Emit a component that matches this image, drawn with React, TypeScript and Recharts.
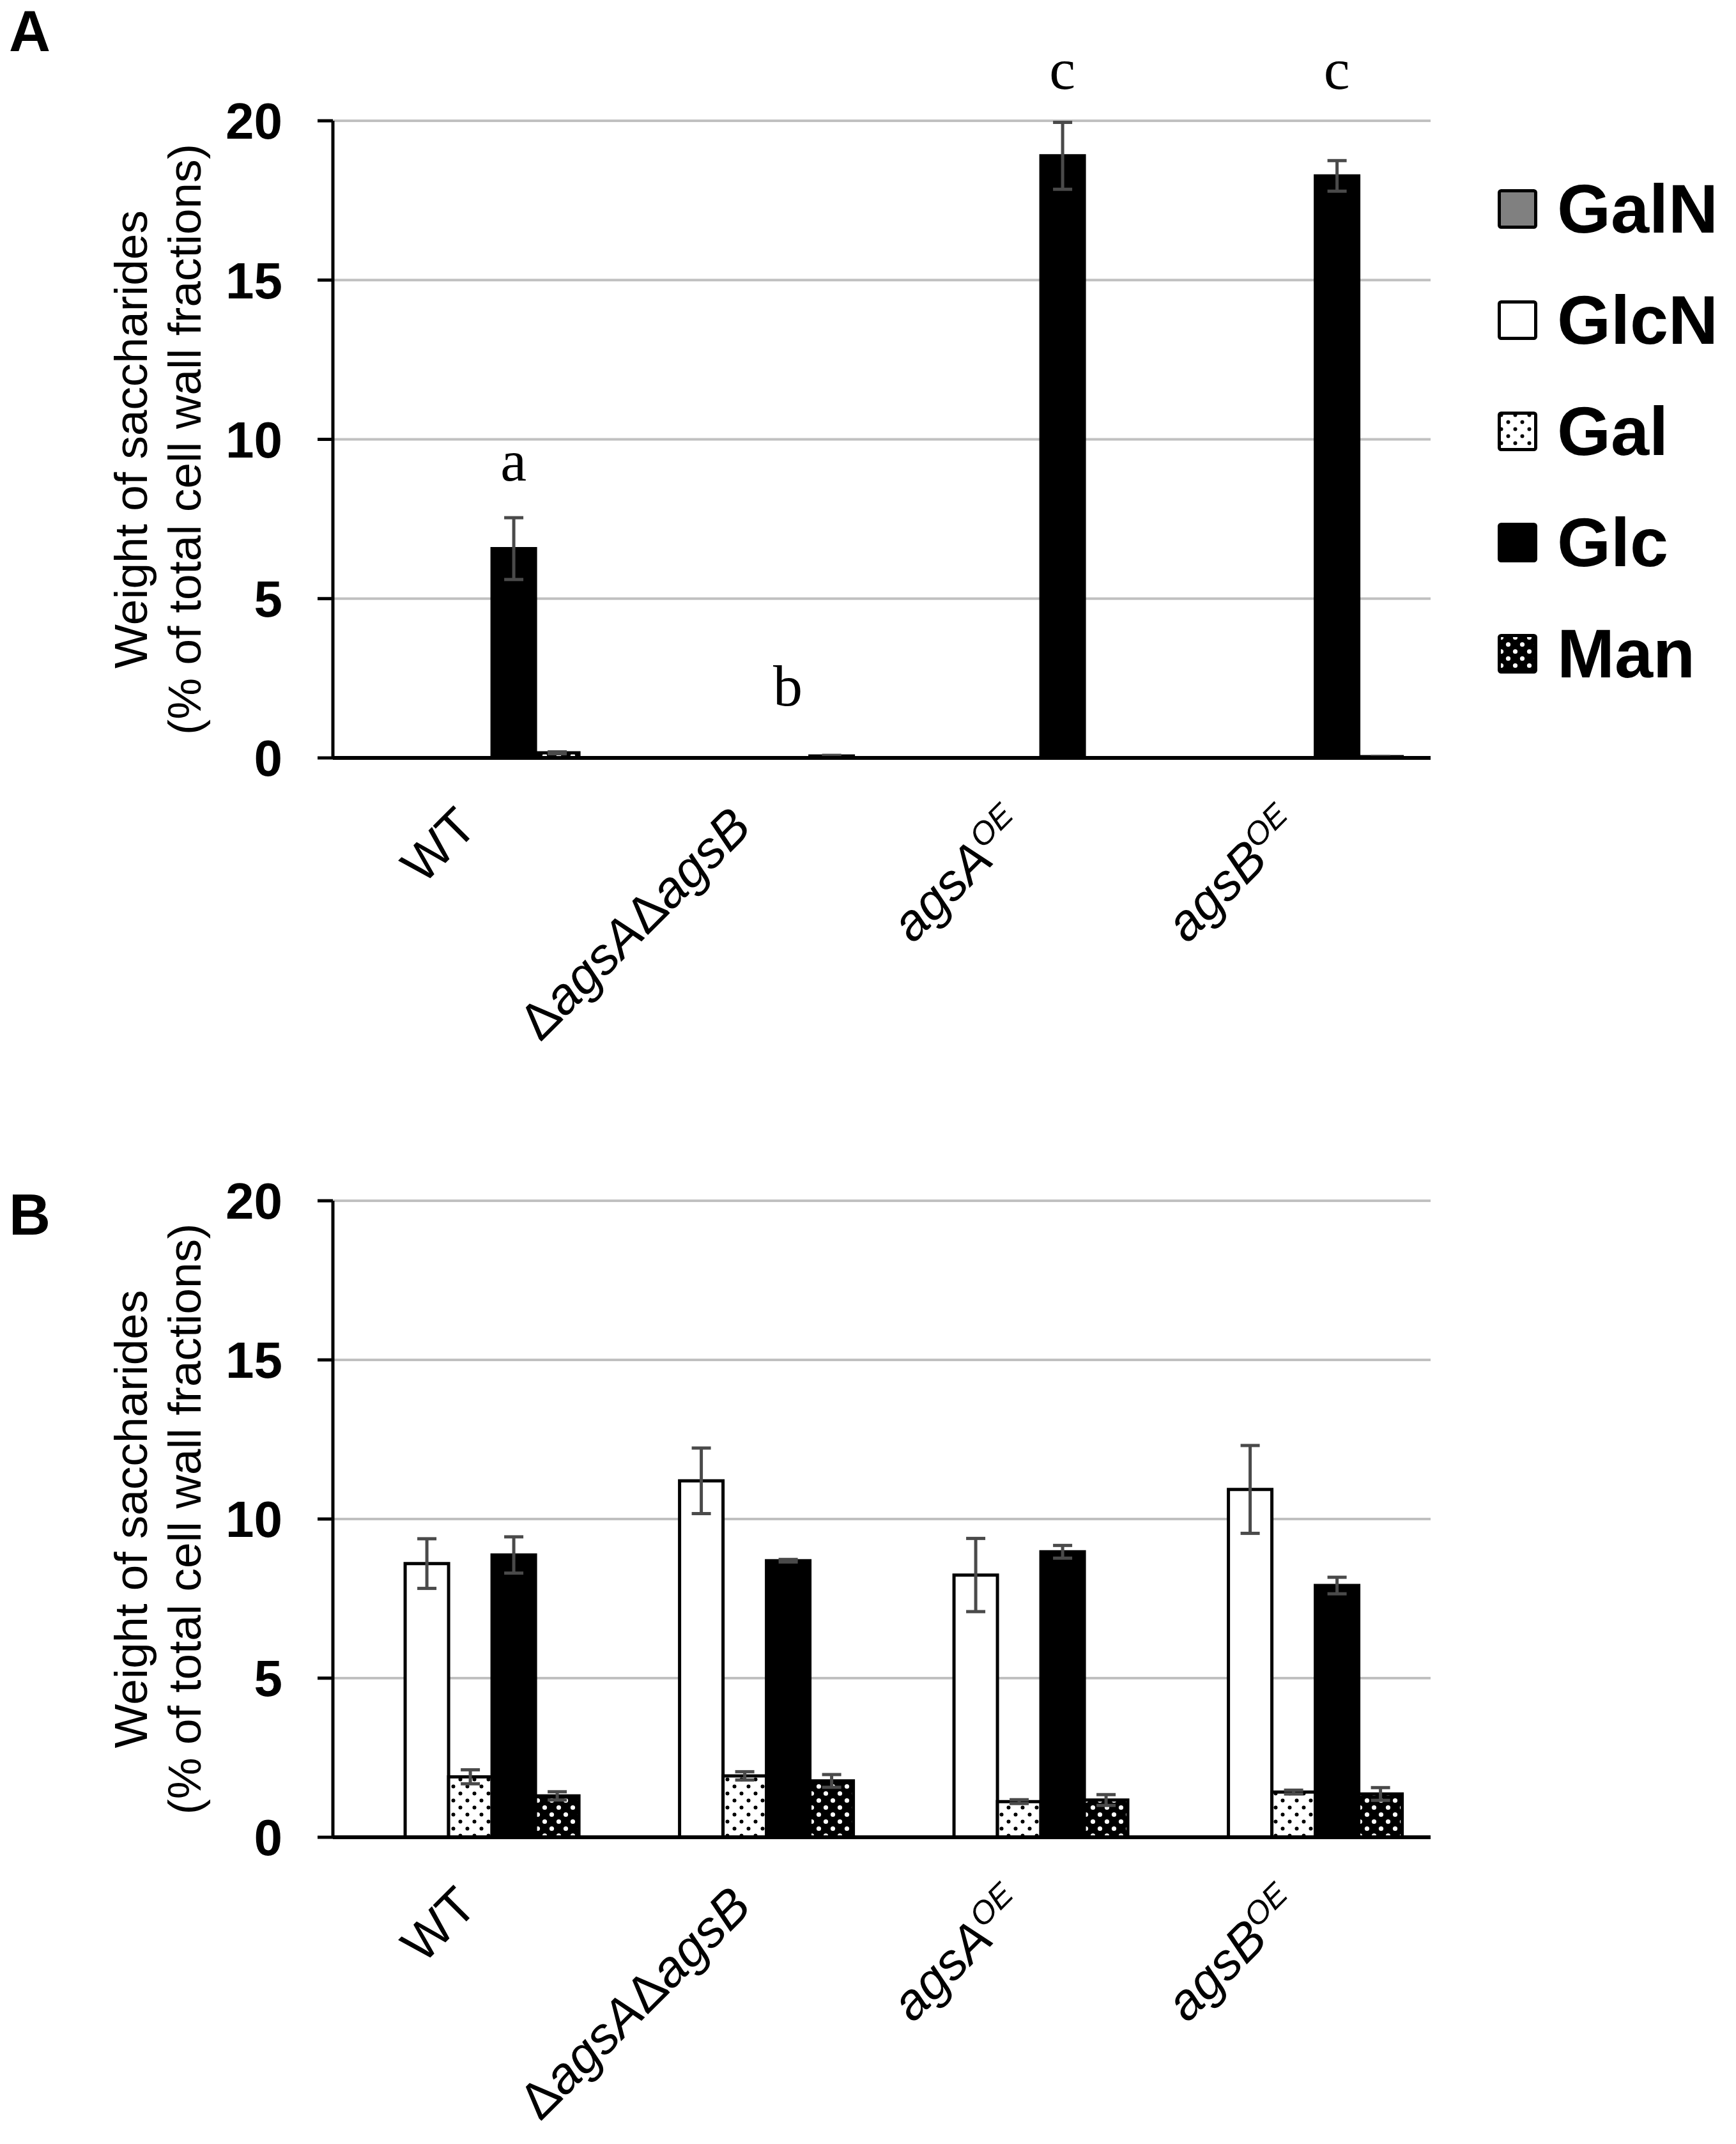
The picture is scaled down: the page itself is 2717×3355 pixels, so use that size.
import React from "react";
import {
  BarChart,
  Bar,
  XAxis,
  YAxis,
  CartesianGrid,
  ErrorBar,
  Legend,
  ReferenceDot,
} from "recharts";

// strains on the x axis
const strains = ["WT", "ΔagsAΔagsB", "agsA-OE", "agsB-OE"];

// how each strain name is typeset (italic gene names, superscript OE)
const strainLabels = [
  [{ t: "WT" }],
  [{ t: "Δ" }, { t: "agsA", i: true }, { t: "Δ" }, { t: "agsB", i: true }],
  [{ t: "agsA", i: true }, { t: "OE", i: true, sup: true }],
  [{ t: "agsB", i: true }, { t: "OE", i: true, sup: true }],
];

const sugars = ["GalN", "GlcN", "Gal", "Glc", "Man"];
const sugarFills: Record<string, string> = {
  GalN: "#808080",
  GlcN: "#ffffff",
  Gal: "url(#patGal)",
  Glc: "#000000",
  Man: "url(#patMan)",
};

const yTicks = [0, 5, 10, 15, 20];

// panel A
const aGalN = [0, 0, 0, 0];
const aGlcN = [0, 0, 0, 0];
const aGal = [0, 0, 0, 0];
const aGlc = [6.57, 0, 18.9, 18.27];
const aGlcErr = [0.97, 0, 1.05, 0.48];
const aMan = [0.16, 0.06, 0, 0.04];
const aManErr = [0.03, 0.02, 0, 0.01];

// significance letters over the Glc bars (A)
const aLetters = ["a", "b", "c", "c"];
const aLetterAt = [8.7, 1.65, 21.0, 21.0];

// panel B
const bGalN = [0, 0, 0, 0];
const bGlcN = [8.6, 11.2, 8.24, 10.93];
const bGlcNErr = [0.78, 1.03, 1.15, 1.38];
const bGal = [1.9, 1.93, 1.12, 1.42];
const bGalErr = [0.22, 0.13, 0.06, 0.06];
const bGlc = [8.87, 8.69, 8.97, 7.91];
const bGlcErr = [0.57, 0.04, 0.2, 0.26];
const bMan = [1.3, 1.77, 1.17, 1.36];
const bManErr = [0.13, 0.2, 0.17, 0.2];

const buildRows = (
  cols: Record<string, number[]>,
  errs: Record<string, number[]>
) =>
  strains.map((s, k) => {
    const row: any = { strain: s };
    sugars.forEach((g) => {
      row[g] = cols[g][k];
      if (errs[g]) row[g + "Err"] = errs[g][k];
    });
    return row;
  });

const dataA = buildRows(
  { GalN: aGalN, GlcN: aGlcN, Gal: aGal, Glc: aGlc, Man: aMan },
  { Glc: aGlcErr, Man: aManErr }
);
const dataB = buildRows(
  { GalN: bGalN, GlcN: bGlcN, Gal: bGal, Glc: bGlc, Man: bMan },
  { GlcN: bGlcNErr, Gal: bGalErr, Glc: bGlcErr, Man: bManErr }
);

const W = 2717;
const PLOT_LEFT = 521;
const PLOT_RIGHT = 2239;
const Y_AXIS_W = 300;
const CAT_GAP = 0.105;
const SANS = "'Liberation Sans', Arial, sans-serif";
const SERIF = "'Liberation Serif', 'Times New Roman', serif";

// offset of the Glc bar centre from the category centre
const BAND = (PLOT_RIGHT - PLOT_LEFT) / strains.length;
const BAR_W = (BAND * (1 - 2 * CAT_GAP)) / sugars.length;

const Patterns = () => (
  <defs>
    <pattern id="patGal" width="22" height="22" patternUnits="userSpaceOnUse">
      <rect width="22" height="22" fill="#ffffff" />
      <circle cx="5.5" cy="5.5" r="3" fill="#000" />
      <circle cx="16.5" cy="16.5" r="3" fill="#000" />
    </pattern>
    <pattern id="patMan" width="22" height="22" patternUnits="userSpaceOnUse">
      <rect width="22" height="22" fill="#000000" />
      <circle cx="5.5" cy="5.5" r="3.6" fill="#fff" />
      <circle cx="16.5" cy="16.5" r="3.6" fill="#fff" />
    </pattern>
  </defs>
);

const StrainTick = (props: any) => {
  const { x, y, payload } = props;
  const parts: any[] = strainLabels[strains.indexOf(payload.value)] || [];
  return (
    <g transform={`translate(${x + 14},${y + 112}) rotate(-45)`}>
      <text textAnchor="end" fontFamily={SANS} fontSize={80} fill="#000">
        {parts.map((p, j) => (
          <tspan
            key={j}
            fontStyle={p.i ? "italic" : "normal"}
            fontSize={p.sup ? 50 : 80}
            dy={p.sup ? -28 : 0}
          >
            {p.t}
          </tspan>
        ))}
      </text>
    </g>
  );
};

const YLabel = (props: any) => {
  const vb = props.viewBox || {};
  const cy = vb.y + vb.height / 2;
  return (
    <g transform={`translate(230,${cy}) rotate(-90)`}>
      <text textAnchor="middle" fontFamily={SANS} fontSize={73} fill="#000">
        <tspan x={0} y={0}>Weight of saccharides</tspan>
        <tspan x={0} y={84}>(% of total cell wall fractions)</tspan>
      </text>
    </g>
  );
};

const SugarLegend = () => (
  <div>
    {sugars.map((g) => (
      <div key={g} style={{ display: "flex", alignItems: "center", height: 174 }}>
        <svg width={62} height={62}>
          <rect x={2.5} y={2.5} width={57} height={57} rx={3} fill={sugarFills[g]} stroke="#000" strokeWidth={5} />
        </svg>
        <span style={{ marginLeft: 31, fontFamily: SANS, fontWeight: "bold", fontSize: 108, lineHeight: 1 }}>
          {g}
        </span>
      </div>
    ))}
  </div>
);

interface PanelProps {
  data: any[];
  height: number;
  plotBottom: number;
  errKeys: string[];
  withLegend?: boolean;
  letters?: string[];
  letterAt?: number[];
}

const Panel: React.FC<PanelProps> = ({ data, height, plotBottom, errKeys, withLegend, letters, letterAt }) => (
  <BarChart
    width={W}
    height={height}
    data={data}
    margin={{ top: 189, left: PLOT_LEFT - Y_AXIS_W, right: W - PLOT_RIGHT, bottom: 0 }}
    barCategoryGap={`${CAT_GAP * 100}%`}
    barGap={0}
  >
    <Patterns />
    <CartesianGrid horizontal vertical={false} stroke="#c0c0c0" strokeWidth={4} />
    <XAxis
      dataKey="strain"
      height={height - plotBottom}
      interval={0}
      tickLine={false}
      tickSize={0}
      tickMargin={0}
      axisLine={{ stroke: "#000", strokeWidth: 6 }}
      tick={<StrainTick />}
    />
    <YAxis
      width={Y_AXIS_W}
      domain={[0, 20]}
      ticks={yTicks}
      allowDataOverflow
      tickSize={24}
      tickMargin={55}
      axisLine={{ stroke: "#000", strokeWidth: 5 }}
      tickLine={{ stroke: "#000", strokeWidth: 5 }}
      tick={{ fontFamily: SANS, fontWeight: "bold", fontSize: 80, fill: "#000" }}
      label={(p: any) => <YLabel {...p} />}
    />
    {sugars.map((g) => (
      <Bar
        key={g}
        dataKey={g}
        name={g}
        fill={sugarFills[g]}
        stroke="#000"
        strokeWidth={5}
        isAnimationActive={false}
      >
        {errKeys.includes(g) && (
          <ErrorBar dataKey={g + "Err"} width={15} stroke="#4a4a4a" strokeWidth={5} direction="y" />
        )}
      </Bar>
    ))}
    {letters &&
      letterAt &&
      strains.map((s, k) => (
        <ReferenceDot
          key={s}
          x={s}
          y={letterAt[k]}
          r={0}
          ifOverflow="visible"
          shape={(p: any) => (
            <text
              x={p.cx + BAR_W}
              y={p.cy}
              textAnchor="middle"
              fontFamily={SERIF}
              fontSize={92}
              fill="#000"
            >
              {letters[k]}
            </text>
          )}
        />
      ))}
    {withLegend && (
      <Legend
        layout="vertical"
        align="center"
        verticalAlign="middle"
        content={<SugarLegend />}
        wrapperStyle={{ left: 2344, top: 240, width: 380 }}
      />
    )}
  </BarChart>
);

const panelLetter = (t: string, top: number): React.CSSProperties => ({
  position: "absolute",
  left: 14,
  top,
  fontFamily: SANS,
  fontWeight: "bold",
  fontSize: 90,
  lineHeight: 1,
});

export default function App() {
  return (
    <div style={{ position: "absolute", left: 0, top: 0, width: W, height: 3355, background: "#fff" }}>
      <div style={{ position: "absolute", left: 0, top: 0 }}>
        <Panel
          data={dataA}
          height={1700}
          plotBottom={1186}
          errKeys={["Glc", "Man"]}
          withLegend
          letters={aLetters}
          letterAt={aLetterAt}
        />
      </div>
      <div style={{ position: "absolute", left: 0, top: 1690 }}>
        <Panel data={dataB} height={1665} plotBottom={1185} errKeys={["GlcN", "Gal", "Glc", "Man"]} />
      </div>
      <div style={panelLetter("A", 4)}>A</div>
      <div style={panelLetter("B", 1856)}>B</div>
    </div>
  );
}
